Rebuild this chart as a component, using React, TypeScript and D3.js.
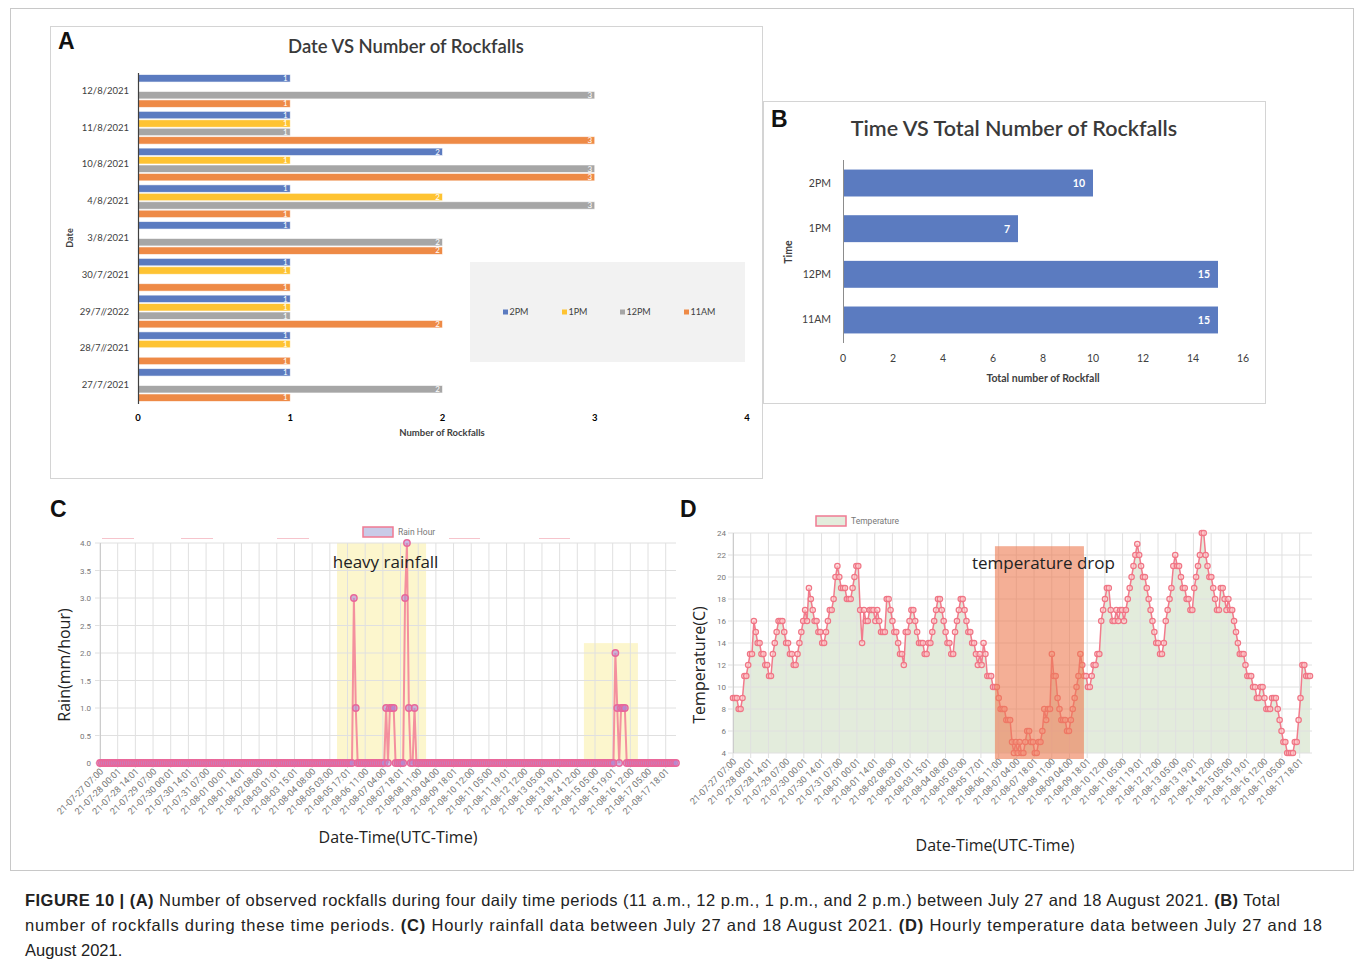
import React from "react";
import * as d3 from "d3";

// ---------- Panel A data ----------
const dates = ["12/8/2021", "11/8/2021", "10/8/2021", "4/8/2021", "3/8/2021", "30/7/2021", "29/7//2022", "28/7//2021", "27/7/2021"];
const periods = ["2PM", "1PM", "12PM", "11AM"];
const count2PM = [1, 1, 2, 1, 1, 1, 1, 1, 1];
const count1PM = [0, 1, 1, 2, 0, 1, 1, 1, 0];
const count12PM = [3, 1, 3, 3, 2, 0, 1, 0, 2];
const count11AM = [1, 3, 3, 1, 2, 1, 2, 1, 1];
const countTicksA = [0, 1, 2, 3, 4];

// ---------- Panel B data ----------
const times = ["2PM", "1PM", "12PM", "11AM"];
const totals = [10, 7, 15, 15];
const totalTicks = [0, 2, 4, 6, 8, 10, 12, 14, 16];

// ---------- Panels C / D shared axis labels ----------
const timeLabels = [
  "21-07-27 07:00", "21-07-28 00:01", "21-07-28 14:01", "21-07-29 07:00", "21-07-30 00:01", "21-07-30 14:01",
  "21-07-31 07:00", "21-08-01 00:01", "21-08-01 14:01", "21-08-02 08:00", "21-08-03 01:01", "21-08-03 15:01",
  "21-08-04 08:00", "21-08-05 03:00", "21-08-05 17:01", "21-08-06 11:00", "21-08-07 04:00", "21-08-07 18:01",
  "21-08-08 11:00", "21-08-09 04:00", "21-08-09 18:01", "21-08-10 12:00", "21-08-11 05:00", "21-08-11 19:01",
  "21-08-12 12:00", "21-08-13 05:00", "21-08-13 19:01", "21-08-14 12:00", "21-08-15 05:00", "21-08-15 19:01",
  "21-08-16 12:00", "21-08-17 05:00", "21-08-17 18:01",
];
const LABEL_EVERY = 9.33; // data points between labelled ticks

// ---------- Panel C data (hourly rain, mm/hour) ----------
const rain = [
  0, 0, 0, 0, 0, 0, 0, 0, 0, 0, 0, 0, 0, 0, 0, 0, 0, 0, 0, 0,
  0, 0, 0, 0, 0, 0, 0, 0, 0, 0, 0, 0, 0, 0, 0, 0, 0, 0, 0, 0,
  0, 0, 0, 0, 0, 0, 0, 0, 0, 0, 0, 0, 0, 0, 0, 0, 0, 0, 0, 0,
  0, 0, 0, 0, 0, 0, 0, 0, 0, 0, 0, 0, 0, 0, 0, 0, 0, 0, 0, 0,
  0, 0, 0, 0, 0, 0, 0, 0, 0, 0, 0, 0, 0, 0, 0, 0, 0, 0, 0, 0,
  0, 0, 0, 0, 0, 0, 0, 0, 0, 0, 0, 0, 0, 0, 0, 0, 0, 0, 0, 0,
  0, 0, 0, 0, 0, 0, 0, 0, 0, 0, 0, 0, 0, 0, 3, 1, 0, 0, 0, 0,
  0, 0, 0, 0, 0, 0, 0, 0, 0, 0, 0, 1, 0, 1, 1, 1, 0, 0, 0, 0,
  0, 3, 4, 1, 0, 0, 1, 0, 0, 0, 0, 0, 0, 0, 0, 0, 0, 0, 0, 0,
  0, 0, 0, 0, 0, 0, 0, 0, 0, 0, 0, 0, 0, 0, 0, 0, 0, 0, 0, 0,
  0, 0, 0, 0, 0, 0, 0, 0, 0, 0, 0, 0, 0, 0, 0, 0, 0, 0, 0, 0,
  0, 0, 0, 0, 0, 0, 0, 0, 0, 0, 0, 0, 0, 0, 0, 0, 0, 0, 0, 0,
  0, 0, 0, 0, 0, 0, 0, 0, 0, 0, 0, 0, 0, 0, 0, 0, 0, 0, 0, 0,
  0, 0, 0, 0, 0, 0, 0, 0, 0, 0, 0, 0, 2, 1, 0, 1, 1, 1, 0, 0,
  0, 0, 0, 0, 0, 0, 0, 0, 0, 0, 0, 0, 0, 0, 0, 0, 0, 0, 0, 0,
  0, 0, 0, 0, 0,
];
const rainTicks = [0, 0.5, 1, 1.5, 2, 2.5, 3, 3.5, 4];
const rainHighlights = [
  { from: 125.1, to: 172.1, top: 4.0, label: "heavy rainfall" },
  { from: 255.4, to: 283.9, top: 2.18, label: "" },
];

// ---------- Panel D data (hourly temperature, C) ----------
const temperature = [
  9, 9, 9, 8, 8, 9, 11, 11, 12, 13, 13, 16, 15, 14, 14, 13, 13, 12, 12, 11,
  11, 13, 14, 15, 16, 16, 16, 15, 14, 14, 13, 13, 12, 12, 13, 14, 15, 16, 17, 16,
  19, 18, 17, 16, 16, 15, 15, 14, 14, 15, 16, 17, 17, 18, 20, 21, 20, 19, 19, 19,
  18, 18, 18, 19, 20, 21, 21, 17, 14, 17, 16, 16, 17, 17, 17,
  16, 17, 16, 15, 15, 15, 18, 18, 17, 16, 15, 15, 14, 13, 13, 12, 15, 15, 16, 17,
  17, 16, 15, 14, 14, 14, 13, 13, 14, 14, 15, 16, 17, 18, 18, 17, 16, 15, 14, 14,
  13, 13, 15, 16, 17, 18, 18, 17, 16, 15, 15, 14, 14, 13, 12, 13, 12, 14, 13, 11,
  11, 11, 10, 10, 10, 9, 8, 8, 8, 7, 7, 7, 5,
  4, 5, 4, 5, 4, 4, 5, 6, 6, 5, 5, 4, 4, 5, 5, 6, 8, 7, 8, 8,
  13, 11, 11, 9, 8, 7, 7, 7, 6, 6, 7, 8, 9, 10, 11, 13, 12, 11, 11, 10,
  10, 11, 12, 12, 13, 13, 16, 17, 18, 19, 19, 17, 16, 16, 17, 16, 17, 17, 16, 17,
  18, 19, 20, 21, 22, 23, 22, 21, 20, 20, 19, 18, 17, 16, 15, 14, 14,
  13, 13, 14, 16, 17, 18, 19, 21, 22, 21, 21, 20, 19, 19, 18, 18, 17, 17, 19, 20,
  21, 22, 24, 24, 22, 21, 20, 20, 19, 18, 17, 17, 19, 19, 18, 17, 18, 17, 17, 16,
  15, 14, 13, 13, 13, 12, 11, 11, 11, 10, 10, 9, 9, 10, 10, 9, 8, 8, 8, 9,
  9, 9, 8, 7, 6, 5, 5, 4, 4, 4, 4, 5, 5, 7, 9, 12, 12, 11, 11, 11,
];
const tempTicks = [4, 6, 8, 10, 12, 14, 16, 18, 20, 22, 24];
const tempHighlights = [{ from: 138.0, to: 184.9, top: 22.8, label: "temperature drop" }];

// ---------- styles ----------
const excelFont = "Lato, 'Open Sans', sans-serif";
const cjsFont = "Roboto, 'Liberation Sans', sans-serif";
const openFont = "'Open Sans', 'Noto Sans', sans-serif";
const capFont = "'Liberation Sans', Arial, sans-serif";
const periodColors = { "2PM": "#5b7bc0", "1PM": "#fec332", "12PM": "#a6a6a6", "11AM": "#ee8a46" };
const gridColor = "#e0e0e0";

function PanelA() {
  const x = d3.scaleLinear().domain([0, 4]).range([138, 747]);
  const y = d3.scaleBand().domain(dates).range([72.6, 403.4]);
  const yi = d3.scaleBand().domain(periods).range([2, y.bandwidth() - 2]).paddingInner(0.12);
  const values = { "2PM": count2PM, "1PM": count1PM, "12PM": count12PM, "11AM": count11AM };
  const legendX = { "2PM": 503, "1PM": 562, "12PM": 620, "11AM": 684 };
  return (
    <g>
      <rect x={50.5} y={26.5} width={712} height={452} fill="#fff" stroke="#d4d4d4" />
      <text x={58} y={49} fontFamily={capFont} fontWeight="bold" fontSize={23} fill="#111">A</text>
      <text x={406} y={53} textAnchor="middle" fontFamily={excelFont} fontWeight={600} fontSize={18.5} fill="#3a3a3a">Date VS Number of Rockfalls</text>
      {dates.map((d, di) =>
        periods.map((p) => {
          const v = values[p][di];
          if (!v) return null;
          const by = (y(d) as number) + (yi(p) as number);
          return (
            <g key={d + p}>
              <rect x={x(0)} y={by} width={x(v) - x(0)} height={yi.bandwidth()} fill={periodColors[p]} stroke="rgba(255,255,255,0.7)" strokeWidth={0.8} />
              <text x={x(v) - 5} y={by + yi.bandwidth() / 2 + 2.8} textAnchor="middle" fontFamily={excelFont} fontSize={8} fill="#fff">{v}</text>
            </g>
          );
        })
      )}
      <line x1={138.5} x2={138.5} y1={73} y2={404} stroke="#404040" strokeWidth={1.2} />
      {dates.map((d) => (
        <text key={d} x={129} y={(y(d) as number) + y.bandwidth() / 2 + 3} textAnchor="end" fontFamily={excelFont} fontSize={9.5} fill="#404040">{d}</text>
      ))}
      {countTicksA.map((t) => (
        <text key={t} x={x(t)} y={421} textAnchor="middle" fontFamily={excelFont} fontWeight="bold" fontSize={9.5} fill="#000">{t}</text>
      ))}
      <text x={442} y={436} textAnchor="middle" fontFamily={excelFont} fontWeight="bold" fontSize={9.5} fill="#404040">Number of Rockfalls</text>
      <text transform="translate(73,238) rotate(-90)" textAnchor="middle" fontFamily={excelFont} fontWeight="bold" fontSize={9} fill="#404040">Date</text>
      <rect x={470} y={262} width={275} height={100} fill="#f2f2f2" />
      {periods.map((p) => (
        <g key={p}>
          <rect x={legendX[p]} y={309.5} width={5} height={5} fill={periodColors[p]} />
          <text x={legendX[p] + 6.5} y={315} fontFamily={excelFont} fontSize={9} fill="#404040">{p}</text>
        </g>
      ))}
    </g>
  );
}

function PanelB() {
  const x = d3.scaleLinear().domain([0, 16]).range([843, 1243]);
  const y = d3.scaleBand().domain(times).range([160.2, 342.8]).paddingInner(0.41).paddingOuter(0.205);
  return (
    <g>
      <rect x={763.5} y={101.5} width={502} height={302} fill="#fff" stroke="#d4d4d4" />
      <text x={771} y={127} fontFamily={capFont} fontWeight="bold" fontSize={23} fill="#111">B</text>
      <text x={1014} y={136} textAnchor="middle" fontFamily={excelFont} fontWeight={600} fontSize={21.5} fill="#3a3a3a">Time VS Total Number of Rockfalls</text>
      {times.map((t, i) => (
        <g key={t}>
          <rect x={x(0)} y={y(t)} width={x(totals[i]) - x(0)} height={y.bandwidth()} fill="#5b7bc0" />
          <text x={x(totals[i]) - 8} y={(y(t) as number) + y.bandwidth() / 2 + 4} textAnchor="end" fontFamily={excelFont} fontWeight="bold" fontSize={10.5} fill="#fff">{totals[i]}</text>
          <text x={831} y={(y(t) as number) + y.bandwidth() / 2 + 3.5} textAnchor="end" fontFamily={excelFont} fontSize={10.5} fill="#404040">{t}</text>
        </g>
      ))}
      <line x1={843.5} x2={843.5} y1={160} y2={343} stroke="#8c8c8c" strokeWidth={1} />
      {totalTicks.map((t) => (
        <text key={t} x={x(t)} y={362} textAnchor="middle" fontFamily={excelFont} fontSize={10.5} fill="#404040">{t}</text>
      ))}
      <text x={1043} y={382} textAnchor="middle" fontFamily={excelFont} fontWeight="bold" fontSize={10.5} fill="#404040">Total number of Rockfall</text>
      <text transform="translate(792,252) rotate(-90)" textAnchor="middle" fontFamily={excelFont} fontWeight="bold" fontSize={10.5} fill="#404040">Time</text>
    </g>
  );
}

function TimeAxis({ x, yBase, yTop }) {
  const ticks = timeLabels.map((l, k) => ({ l, i: k * LABEL_EVERY }));
  return (
    <g>
      {ticks.map((t) => (
        <g key={t.l}>
          <line x1={x(t.i)} x2={x(t.i)} y1={yTop} y2={yBase + 5} stroke={gridColor} strokeWidth={1} />
          <text
            transform={`translate(${x(t.i) + 4},${yBase + 9}) rotate(-45)`}
            textAnchor="end"
            fontFamily={cjsFont}
            fontSize={9.2}
            fill="#777"
          >
            {t.l}
          </text>
        </g>
      ))}
    </g>
  );
}

function PanelC() {
  const n = rain.length;
  const x = d3.scaleLinear().domain([0, n - 1]).range([100, 676]);
  const y = d3.scaleLinear().domain([0, 4]).range([763, 543]);
  const line = d3.line<number>().x((_, i) => x(i)).y((v) => y(v));
  const legendDashes = [[102, 134], [181, 213], [277, 309], [449, 480], [539, 570]];
  return (
    <g>
      <text x={50} y={517} fontFamily={capFont} fontWeight="bold" fontSize={23} fill="#111">C</text>
      {rainHighlights.map((h, k) => (
        <rect key={k} x={x(h.from)} y={y(h.top)} width={x(h.to) - x(h.from)} height={y(0) - y(h.top)} fill="#fbf4c4" opacity={0.85} />
      ))}
      {rainTicks.map((t) => (
        <g key={t}>
          <line x1={95} x2={676} y1={y(t)} y2={y(t)} stroke={gridColor} />
          <text x={91} y={y(t) + 3} textAnchor="end" fontFamily={cjsFont} fontSize={8} fill="#777">{t === 0 ? "0" : t.toFixed(1)}</text>
        </g>
      ))}
      <TimeAxis x={x} yBase={763} yTop={543} />
      <line x1={100.5} x2={100.5} y1={543} y2={763} stroke="#ccc" />
      {legendDashes.map(([a, b], k) => (
        <line key={k} x1={a} x2={b} y1={538.5} y2={538.5} stroke="#f6c4cc" strokeWidth={1} />
      ))}
      <rect x={363} y={527} width={30} height={10} fill="#c9cbe8" stroke="#f07a92" strokeWidth={1.5} />
      <text x={398} y={535} fontFamily={cjsFont} fontSize={8.5} fill="#777">Rain Hour</text>
      <path d={line(rain) as string} fill="none" stroke="#f4909e" strokeWidth={2} />
      {rain.map((v, i) => (
        <circle key={i} cx={x(i)} cy={y(v)} r={3.2} fill="rgba(175,140,215,0.6)" stroke="#e9679a" strokeWidth={1.4} />
      ))}
      {rainHighlights.filter((h) => h.label).map((h, k) => (
        <text key={k} x={(x(h.from) + x(h.to)) / 2 + 4} y={568} textAnchor="middle" fontFamily={openFont} fontSize={17} fill="#222">{h.label}</text>
      ))}
      <text transform="translate(70,665) rotate(-90)" textAnchor="middle" fontFamily={openFont} fontSize={16} fill="#222">Rain(mm/hour)</text>
      <text x={398} y={843} textAnchor="middle" fontFamily={openFont} fontSize={16} fill="#222">Date-Time(UTC-Time)</text>
    </g>
  );
}

function PanelD() {
  const n = temperature.length;
  const x = d3.scaleLinear().domain([0, n - 1]).range([733, 1310]);
  const y = d3.scaleLinear().domain([4, 24]).range([753, 533]);
  const line = d3.line<number>().x((_, i) => x(i)).y((v) => y(v));
  const area = d3.area<number>().x((_, i) => x(i)).y0(y(4)).y1((v) => y(v));
  return (
    <g>
      <text x={680} y={517} fontFamily={capFont} fontWeight="bold" fontSize={23} fill="#111">D</text>
      <path d={area(temperature) as string} fill="#e3ecdc" />
      {tempTicks.map((t) => (
        <g key={t}>
          <line x1={728} x2={1312} y1={y(t)} y2={y(t)} stroke={gridColor} />
          <text x={726} y={y(t) + 3} textAnchor="end" fontFamily={cjsFont} fontSize={8} fill="#777">{t}</text>
        </g>
      ))}
      <TimeAxis x={x} yBase={753} yTop={533} />
      <line x1={733.5} x2={733.5} y1={533} y2={753} stroke="#ccc" />
      <rect x={816} y={516} width={30} height={10} fill="#e3ecdc" stroke="#f07a92" strokeWidth={1.5} />
      <text x={851} y={524} fontFamily={cjsFont} fontSize={8.5} fill="#777">Temperature</text>
      <path d={line(temperature) as string} fill="none" stroke="#f27b8c" strokeWidth={1.5} />
      {temperature.map((v, i) => (
        <circle key={i} cx={x(i)} cy={y(v)} r={2.7} fill="rgba(255,210,210,0.6)" stroke="#f07585" strokeWidth={1.2} />
      ))}
      {tempHighlights.map((h, k) => (
        <g key={k}>
          <rect x={x(h.from)} y={y(h.top)} width={x(h.to) - x(h.from)} height={y(4) - y(h.top) + 6} fill="#ec7a50" opacity={0.6} />
          <text x={(x(h.from) + x(h.to)) / 2 + 4} y={569} textAnchor="middle" fontFamily={openFont} fontSize={17} fill="#222">{h.label}</text>
        </g>
      ))}
      <text transform="translate(705,665) rotate(-90)" textAnchor="middle" fontFamily={openFont} fontSize={16} fill="#222">Temperature(C)</text>
      <text x={995} y={851} textAnchor="middle" fontFamily={openFont} fontSize={16} fill="#222">Date-Time(UTC-Time)</text>
    </g>
  );
}

function Caption() {
  return (
    <g fontFamily={capFont} fontSize={16.5} fill="#222">
      <text x={25} y={906} textLength={1255} lengthAdjust="spacing">
        <tspan fontWeight="bold">FIGURE 10 | (A)</tspan>
        <tspan> Number of observed rockfalls during four daily time periods (11 a.m., 12 p.m., 1 p.m., and 2 p.m.) between July 27 and 18 August 2021. </tspan>
        <tspan fontWeight="bold">(B)</tspan>
        <tspan> Total</tspan>
      </text>
      <text x={25} y={931} textLength={1297} lengthAdjust="spacing">
        <tspan>number of rockfalls during these time periods. </tspan>
        <tspan fontWeight="bold">(C)</tspan>
        <tspan> Hourly rainfall data between July 27 and 18 August 2021. </tspan>
        <tspan fontWeight="bold">(D)</tspan>
        <tspan> Hourly temperature data between July 27 and 18</tspan>
      </text>
      <text x={25} y={956}>August 2021.</text>
    </g>
  );
}

export default function App() {
  return (
    <svg width={1357} height={967} style={{ position: "absolute", left: 0, top: 0, background: "#fff" }}>
      <rect x={0} y={0} width={1357} height={967} fill="#fff" />
      <rect x={10.5} y={8.5} width={1343} height={862} fill="none" stroke="#c8c8c8" />
      <PanelA />
      <PanelB />
      <PanelC />
      <PanelD />
      <Caption />
    </svg>
  );
}
